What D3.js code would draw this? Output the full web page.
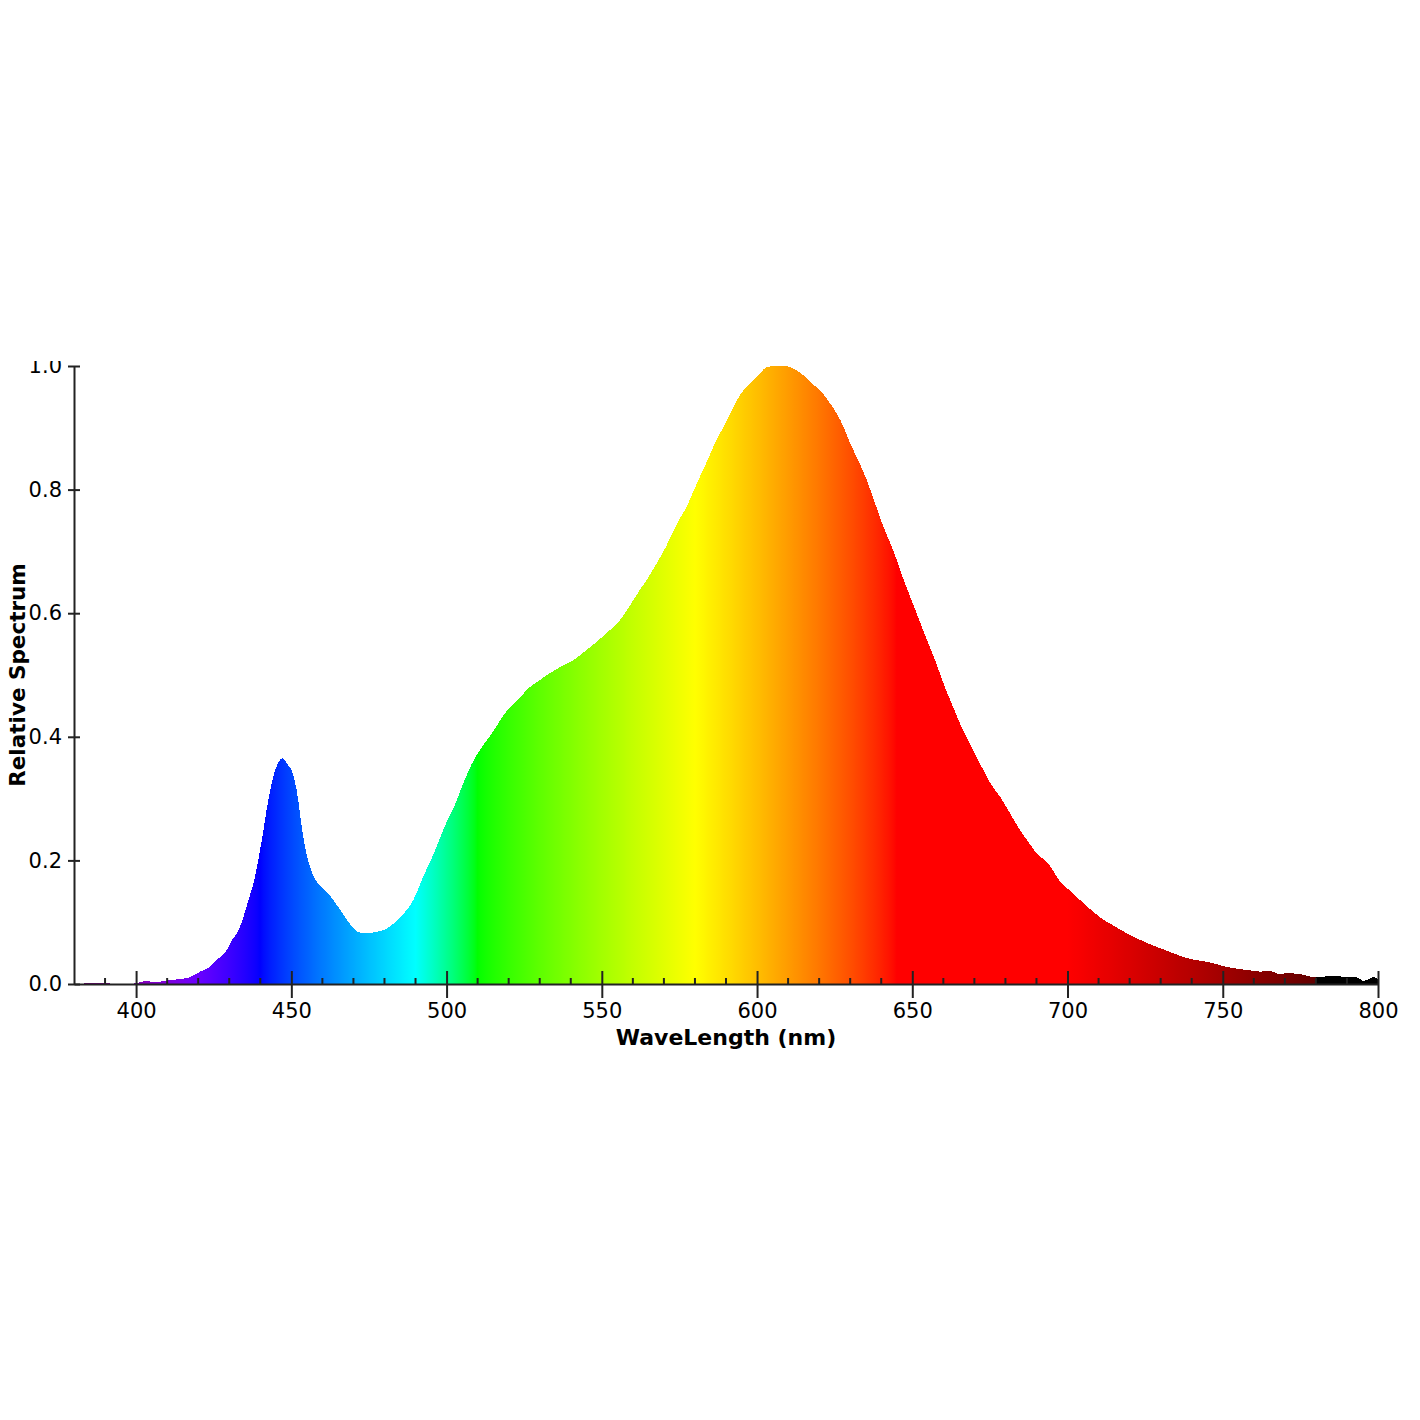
<!DOCTYPE html>
<html>
<head>
<meta charset="utf-8">
<script src="https://cdn.jsdelivr.net/npm/d3@7"></script>
<style>
  html, body { margin: 0; padding: 0; background: #fff; }
  svg { display: block; }
</style>
</head>
<body>
<div id="chart"></div>
<script>
// ---- data ----
const wavelengths = [380,384,388,391,395,400,403,406,410.4,414,417.4,420.6,423.8,426,429.2,430.3,433.5,434.6,436.2,437.8,
  440.5,442.6,444.8,446,447.1,449,450.3,451.7,453.9,456,457.3,459,461.2,463.5,466.8,470,471.5,474.3,477,479.6,
  482,485.5,489.3,492.5,495.8,500,502.2,505.4,508,510.8,513.5,516.2,518.5,520.4,523.7,525.8,529,533.3,537,540.8,
  544.5,548.4,552,555.9,559,562.3,565,567.7,570.5,573,575,577.3,579.5,581.6,584,585.9,588.5,591.3,594.5,597.7,
  600.4,603.1,606,609.5,612,614.9,617.5,620.3,623,625.7,628,630,632.7,635.3,638,640.7,643,645,647,649.3,
  652,654.7,657.5,660,663,666,669,672.9,675.5,678.3,681.5,684.7,687.5,690.1,693.8,697.6,701,705.1,708,711.6,
  715,719.1,724,729.8,734,738.4,741,744.8,748,750.2,754.5,758.8,762,765.2,768.4,771.1,774,776,779.2,782.4,
  786.7,790,793.1,795.3,798.6,800];
const spectrum = [0,0.001,0.002,0.001,0.0,0.001,0.005,0.003,0.006,0.008,0.011,0.020,0.028,0.039,0.055,0.066,0.093,0.109,0.136,0.163,
  0.233,0.298,0.346,0.360,0.365,0.354,0.343,0.314,0.236,0.190,0.173,0.160,0.150,0.136,0.112,0.090,0.084,0.082,0.084,0.087,
  0.094,0.110,0.136,0.174,0.210,0.262,0.284,0.325,0.355,0.379,0.398,0.418,0.436,0.448,0.463,0.476,0.488,0.503,0.514,0.524,
  0.538,0.554,0.570,0.589,0.612,0.638,0.658,0.681,0.706,0.732,0.752,0.772,0.797,0.821,0.847,0.869,0.895,0.923,0.953,0.972,
  0.985,0.998,1.0,1.0,0.995,0.985,0.972,0.961,0.943,0.923,0.900,0.875,0.846,0.816,0.778,0.740,0.712,0.686,0.657,0.627,
  0.592,0.557,0.522,0.487,0.450,0.414,0.385,0.346,0.322,0.303,0.276,0.249,0.229,0.211,0.195,0.166,0.150,0.131,0.118,0.104,
  0.094,0.082,0.070,0.058,0.050,0.042,0.039,0.036,0.032,0.029,0.025,0.022,0.020,0.021,0.016,0.018,0.016,0.015,0.011,0.012,
  0.013,0.011,0.011,0.005,0.011,0.008];
const xMajorTicks = [400,450,500,550,600,650,700,750,800];
const xMinorTicks = [390,410,420,430,440,460,470,480,490,510,520,530,540,560,570,580,590,610,620,630,640,660,670,680,690,710,720,730,740,760,770,780,790];
const yTicks = [0.0,0.2,0.4,0.6,0.8,1.0];
const xTitle = "WaveLength (nm)";
const yTitle = "Relative Spectrum";

// ---- wavelength -> colour (fill style) ----
function spectralColor(w) {
  let r, g, b;
  if (w < 440) { r = -(w - 440) / 60; g = 0; b = 1; }
  else if (w < 490) { r = 0; g = (w - 440) / 50; b = 1; }
  else if (w < 510) { r = 0; g = 1; b = -(w - 510) / 20; }
  else if (w < 580) { r = (w - 510) / 70; g = 1; b = 0; }
  else if (w < 645) { r = 1; g = -(w - 645) / 65; b = 0; }
  else if (w <= 780) { r = 1; g = 0; b = 0; }
  else { r = 0; g = 0; b = 0; }
  let f;
  if (w < 420) f = 0.3 + 0.7 * (w - 380) / 40;
  else if (w <= 700) f = 1;
  else if (w <= 780) f = 0.3 + 0.7 * (780 - w) / 80;
  else f = 0;
  const adj = c => c === 0 ? 0 : Math.round(255 * Math.pow(c * f, 0.8));
  return d3.rgb(adj(r), adj(g), adj(b)).formatHex();
}

// ---- layout ----
const W = 1420, H = 1420;
const mLeft = 74, mRight = 1378, mTop = 366, mBottom = 984;

const svg = d3.select("#chart").append("svg").attr("width", W).attr("height", H);
const defs = svg.append("defs");

const x = d3.scaleLinear().domain([380, 800]).range([mLeft, mRight]);
const y = d3.scaleLinear().domain([0, 1]).range([mBottom, mTop]);

// gradient
const grad = defs.append("linearGradient")
  .attr("id", "spec").attr("gradientUnits", "userSpaceOnUse")
  .attr("x1", x(380)).attr("x2", x(800)).attr("y1", 0).attr("y2", 0);
const stops = [];
for (let w = 380; w <= 780; w += 1) stops.push([w, spectralColor(w)]);
stops.push([780.05, "#000000"]);
stops.push([800, "#000000"]);
grad.selectAll("stop").data(stops).enter().append("stop")
  .attr("offset", d => ((d[0] - 380) / 420))
  .attr("stop-color", d => d[1]);

const data = wavelengths.map((w, i) => ({ w, v: spectrum[i] }));
const area = d3.area()
  .x(d => x(d.w)).y0(y(0)).y1(d => y(d.v))
  .curve(d3.curveMonotoneX);

svg.append("path").datum(data)
  .attr("d", area)
  .attr("fill", "url(#spec)")
  .attr("shape-rendering", "crispEdges");

const fontFam = "'DejaVu Sans', Verdana, sans-serif";
const axisColor = "#222";

// x axis
const xAxis = d3.axisBottom(x).tickValues(xMajorTicks).tickSize(14).tickPadding(5)
  .tickFormat(d3.format("d")).tickSizeOuter(0);
const gx = svg.append("g").attr("transform", `translate(0,${mBottom})`).call(xAxis);
gx.select(".domain").attr("stroke", axisColor).attr("stroke-width", 2);
gx.selectAll(".tick line").attr("y1", -13).attr("stroke", axisColor).attr("stroke-width", 2);
gx.selectAll(".tick text").attr("font-family", fontFam).attr("font-size", 21).attr("fill", "#000");

// minor ticks
gx.selectAll(".minor").data(xMinorTicks).enter().append("line")
  .attr("class", "minor")
  .attr("x1", d => x(d)).attr("x2", d => x(d))
  .attr("y1", -6).attr("y2", 0)
  .attr("stroke", axisColor).attr("stroke-width", 2);

// y axis
defs.append("clipPath").attr("id", "yclip").append("rect")
  .attr("x", -80).attr("y", 361).attr("width", 100).attr("height", 700);
const yAxis = d3.axisLeft(y).tickValues(yTicks).tickSize(6).tickPadding(6)
  .tickFormat(d3.format(".1f")).tickSizeOuter(0);
const gy = svg.append("g").attr("transform", `translate(${mLeft},0)`)
  .call(yAxis);
gy.attr("clip-path", "url(#yclip)");
gy.select(".domain").attr("stroke", axisColor).attr("stroke-width", 2);
gy.selectAll(".tick line").attr("x1", 6).attr("stroke", axisColor).attr("stroke-width", 2);
gy.selectAll(".tick text").attr("font-family", fontFam).attr("font-size", 21).attr("fill", "#000");

// titles
svg.append("text")
  .attr("x", (mLeft + mRight) / 2).attr("y", 1045)
  .attr("text-anchor", "middle")
  .attr("font-family", fontFam).attr("font-size", 22).attr("font-weight", "bold")
  .text(xTitle);

svg.append("text")
  .attr("transform", `translate(25,${(mTop + mBottom) / 2}) rotate(-90)`)
  .attr("text-anchor", "middle")
  .attr("font-family", fontFam).attr("font-size", 21.5).attr("font-weight", "bold")
  .text(yTitle);
</script>
</body>
</html>
